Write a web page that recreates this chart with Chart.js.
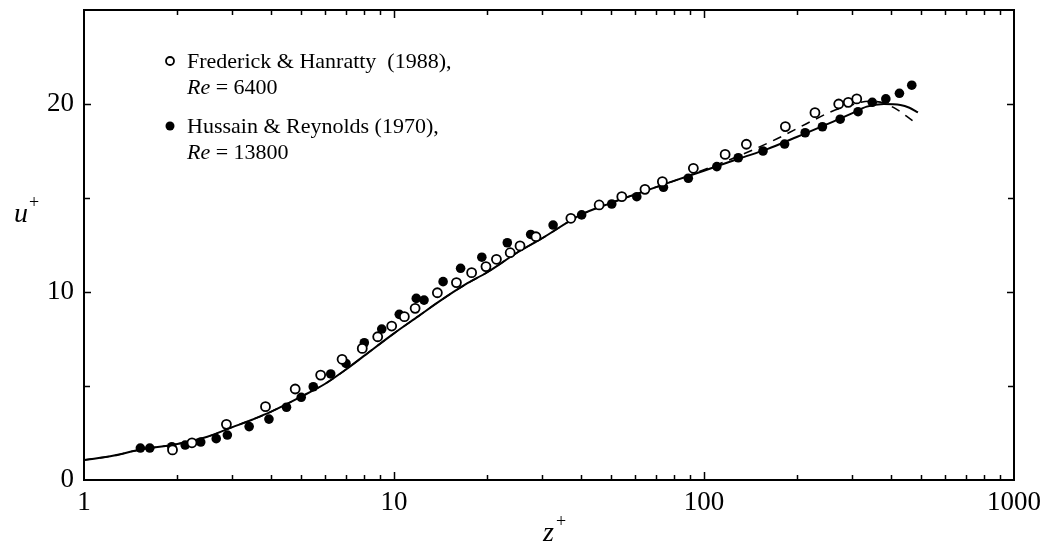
<!DOCTYPE html>
<html>
<head>
<meta charset="utf-8">
<script src="https://cdn.jsdelivr.net/npm/chart.js@4.4.0/dist/chart.umd.min.js"></script>
<style>
  html, body { margin: 0; padding: 0; background: #fff; }
</style>
</head>
<body>
<canvas id="profile" width="1050" height="550"></canvas>
<script>
// Frederick & Hanratty (1988), Re = 6400 (open symbols)
const fhZ = [1.93, 2.23, 2.88, 3.85, 4.8, 5.8, 6.8, 7.9, 8.86, 9.83, 10.8, 11.7, 13.8, 15.9,
  17.8, 19.8, 21.4, 23.7, 25.5, 28.7, 37.2, 45.9, 54.3, 64.5, 73.4, 92.4, 117, 137, 183, 228,
  272, 292, 311];
const fhU = [1.6, 1.98, 2.96, 3.9, 4.84, 5.58, 6.42, 7.0, 7.62, 8.19, 8.69, 9.13, 9.96, 10.5,
  11.03, 11.35, 11.74, 12.09, 12.45, 12.94, 13.92, 14.63, 15.07, 15.46, 15.87, 16.58, 17.32, 17.86,
  18.8, 19.54, 20.0, 20.09, 20.27];

// Hussain & Reynolds (1970), Re = 13800 (filled symbols)
const hrZ = [1.52, 1.63, 1.92, 2.12, 2.38, 2.67, 2.9, 3.41, 3.95, 4.5, 5.02, 5.49, 6.25, 7.0,
  8.02, 9.13, 10.4, 11.8, 12.5, 14.4, 16.4, 19.2, 23.2, 27.6, 32.6, 40.3, 50.4, 60.7, 74, 89,
  110, 129, 155, 182, 212, 241, 275, 314, 349, 386, 427, 468];
const hrU = [1.7, 1.7, 1.77, 1.86, 2.02, 2.2, 2.39, 2.84, 3.24, 3.87, 4.4, 4.96, 5.64, 6.2,
  7.3, 8.03, 8.81, 9.66, 9.57, 10.55, 11.26, 11.85, 12.62, 13.06, 13.56, 14.1, 14.68, 15.07, 15.57,
  16.05, 16.67, 17.14, 17.5, 17.87, 18.47, 18.79, 19.19, 19.59, 20.09, 20.27, 20.57, 21.0];

// computed mean profiles (solid and dashed)
const solidZ = [1, 1.25, 1.5, 2, 2.5, 3, 3.5, 4, 5, 6, 7, 8, 10, 12, 14, 17, 20, 25, 30, 40,
  50, 60, 80, 100, 130, 160, 200, 260, 300, 335, 380, 430, 460, 490];
const solidU = [1.06, 1.3, 1.6, 1.92, 2.3, 2.8, 3.22, 3.62, 4.42, 5.12, 5.88, 6.6, 7.8, 8.72,
  9.5, 10.4, 11.05, 12.1, 12.85, 14.1, 14.73, 15.19, 15.91, 16.45, 17.1, 17.6, 18.26, 19.05,
  19.5, 19.86, 20.0, 19.95, 19.8, 19.55];
const dashZ = [1, 1.25, 1.5, 2, 2.5, 3, 3.5, 4, 5, 6, 7, 8, 10, 12, 14, 17, 20, 25, 30, 40,
  50, 60, 80, 100, 130, 172, 220, 258, 300, 340, 380, 420, 450, 481];
const dashU = [1.06, 1.3, 1.6, 1.92, 2.3, 2.8, 3.22, 3.62, 4.42, 5.12, 5.88, 6.6, 7.8, 8.72,
  9.5, 10.4, 11.05, 12.1, 12.85, 14.1, 14.73, 15.19, 15.91, 16.5, 17.25, 18.15, 19.05, 19.6,
  19.95, 20.15, 20.05, 19.7, 19.35, 19.0];

const xTickLabels = [1, 10, 100, 1000];
const yTickLabels = [0, 10, 20];
const yInnerTicks = [5, 10, 15, 20];

const SERIF = '"Liberation Serif", "DejaVu Serif", serif';

function pairs(xs, ys) {
  return xs.map((x, i) => ({ x: x, y: ys[i] }));
}

// box frame, inward tick marks, axis titles and the legend
const decorations = {
  id: 'decorations',
  afterDatasetsDraw(chart) {
    const ctx = chart.ctx;
    const a = chart.chartArea;
    const x = chart.scales.x;
    const y = chart.scales.y;
    ctx.save();
    ctx.strokeStyle = '#000';
    ctx.lineWidth = 2;
    ctx.strokeRect(a.left, a.top, a.right - a.left, a.bottom - a.top);

    ctx.lineWidth = 1.5;
    ctx.beginPath();
    for (let d = 1; d < 1000; d *= 10) {
      for (let k = 1; k < 10; k++) {
        if (d * k === 1) continue;
        const px = Math.round(x.getPixelForValue(d * k)) + 0.5;
        const len = k === 1 ? 8 : 5;
        ctx.moveTo(px, a.bottom);
        ctx.lineTo(px, a.bottom - len);
        ctx.moveTo(px, a.top);
        ctx.lineTo(px, a.top + len);
      }
    }
    yInnerTicks.forEach((v) => {
      const py = Math.round(y.getPixelForValue(v)) + 0.5;
      const len = v % 10 === 0 ? 7 : 6;
      ctx.moveTo(a.left, py);
      ctx.lineTo(a.left + len, py);
      ctx.moveTo(a.right, py);
      ctx.lineTo(a.right - len, py);
    });
    ctx.stroke();

    // axis titles
    ctx.fillStyle = '#000';
    ctx.textBaseline = 'alphabetic';
    ctx.textAlign = 'left';
    ctx.font = 'italic 28px ' + SERIF;
    ctx.fillText('u', 14, 222);
    ctx.fillText('z', 543, 541);
    ctx.font = '18px ' + SERIF;
    ctx.fillText('+', 29, 208);
    ctx.fillText('+', 556, 527);

    // legend
    const lx = 170;
    const tx = 187;
    ctx.lineWidth = 1.8;
    ctx.beginPath();
    ctx.arc(lx, 61, 4, 0, Math.PI * 2);
    ctx.fillStyle = '#fff';
    ctx.fill();
    ctx.stroke();
    ctx.beginPath();
    ctx.arc(lx, 126, 4.5, 0, Math.PI * 2);
    ctx.fillStyle = '#000';
    ctx.fill();

    ctx.textBaseline = 'middle';
    ctx.font = '22px ' + SERIF;
    ctx.fillText('Frederick & Hanratty  (1988),', tx, 62);
    ctx.fillText('Hussain & Reynolds (1970),', tx, 127);
    const reLine = (yy, val) => {
      ctx.font = 'italic 22px ' + SERIF;
      ctx.fillText('Re', tx, yy);
      const w = ctx.measureText('Re').width;
      ctx.font = '22px ' + SERIF;
      ctx.fillText(' = ' + val, tx + w, yy);
    };
    reLine(88, '6400');
    reLine(153, '13800');
    ctx.restore();
  }
};

new Chart(document.getElementById('profile'), {
  type: 'scatter',
  data: {
    datasets: [
      {
        label: 'Frederick & Hanratty (1988), Re = 6400',
        data: pairs(fhZ, fhU),
        pointRadius: 4.5,
        pointBorderWidth: 1.8,
        pointBackgroundColor: '#fff',
        pointBorderColor: '#000',
        showLine: false,
        order: 0
      },
      {
        label: 'Hussain & Reynolds (1970), Re = 13800',
        data: pairs(hrZ, hrU),
        pointRadius: 4.8,
        pointBorderWidth: 0,
        pointBackgroundColor: '#000',
        pointBorderColor: '#000',
        showLine: false,
        order: 1
      },
      {
        label: 'solid',
        data: pairs(solidZ, solidU),
        showLine: true,
        pointRadius: 0,
        borderColor: '#000',
        borderWidth: 2,
        cubicInterpolationMode: 'monotone',
        order: 2
      },
      {
        label: 'dashed',
        data: pairs(dashZ, dashU),
        showLine: true,
        pointRadius: 0,
        borderColor: '#000',
        borderWidth: 1.6,
        borderDash: [9, 7],
        cubicInterpolationMode: 'monotone',
        order: 3
      }
    ]
  },
  options: {
    responsive: false,
    animation: false,
    devicePixelRatio: 1,
    layout: { autoPadding: false, padding: { left: 0, right: 36, top: 10, bottom: 0 } },
    plugins: { legend: { display: false }, tooltip: { enabled: false } },
    scales: {
      x: {
        type: 'logarithmic',
        min: 1,
        max: 1000,
        grid: { display: false, drawTicks: false },
        border: { display: false },
        ticks: {
          autoSkip: false,
          maxRotation: 0,
          padding: 7,
          color: '#000',
          font: { family: SERIF, size: 27 },
          callback: (v) => String(v)
        },
        afterBuildTicks(scale) {
          scale.ticks = xTickLabels.map((v) => ({ value: v }));
        },
        afterFit(scale) {
          scale.height = 70;
          scale.paddingLeft = 0;
          scale.paddingRight = 0;
        }
      },
      y: {
        type: 'linear',
        min: 0,
        max: 25,
        grid: { display: false, drawTicks: false },
        border: { display: false },
        ticks: {
          padding: 10,
          color: '#000',
          font: { family: SERIF, size: 27 },
          callback: (v) => String(v)
        },
        afterBuildTicks(scale) {
          scale.ticks = yTickLabels.map((v) => ({ value: v }));
        },
        afterFit(scale) {
          scale.width = 84;
          scale.paddingTop = 0;
          scale.paddingBottom = 0;
        }
      }
    }
  },
  plugins: [decorations]
});
</script>
</body>
</html>
